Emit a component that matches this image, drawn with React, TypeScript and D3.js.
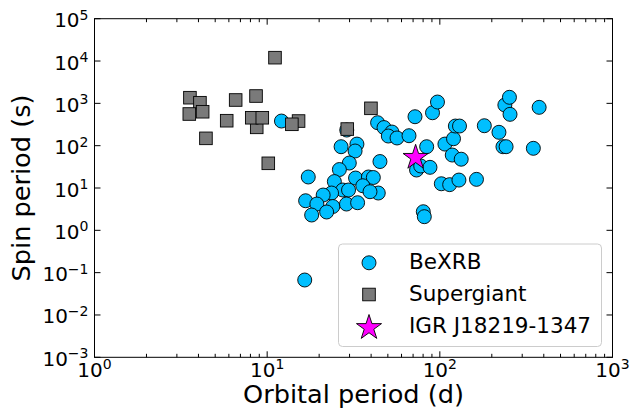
import React from 'react';
import * as d3 from 'd3';

const bexrbOrbital = [12.1, 28.9, 43.6, 47.5, 52.8, 50.3, 56.5, 66.3, 71.8, 90.7, 96.9,
  33.1, 26.8, 32.3, 29.9, 26.2, 45.0, 17.3, 24.5, 32.5, 38.6, 41.2,
  35.8, 27.4, 29.6, 23.6, 21.1, 44.0, 39.4, 16.7, 19.4, 24.0, 28.8,
  33.4, 18.1, 22.1, 83.9, 73.3, 77.5, 87.7, 107, 120, 123, 130,
  118, 133, 102, 114, 129, 163, 181, 220, 238, 253, 255,
  232, 242, 376, 348, 80.2, 81.3, 16.5];
const bexrbSpin = [382, 234, 349, 268, 210, 169, 152, 172, 483, 600, 1075,
  109, 94.5, 74.8, 38.9, 27.3, 42.2, 18.2, 14.2, 17.2, 18.2, 17.7,
  11.3, 8.96, 8.96, 7.61, 6.82, 7.61, 8.17, 5.0, 4.18, 3.65, 4.18,
  4.49, 2.30, 2.71, 94.5, 26.6, 33.1, 30.8, 109, 146, 291, 291,
  60.1, 47.9, 12.6, 12.0, 15.4, 16.0, 296, 207, 913, 1390, 550,
  94.5, 94.5, 805, 86.6, 2.75, 2.10, 0.067];

const sgOrbital = [11.1, 3.57, 4.08, 3.54, 4.23, 6.57, 8.62, 5.83, 8.70, 8.14, 9.37, 4.42, 15.2, 13.9, 39.9, 29.1, 10.15];
const sgSpin = [12000, 1360, 1035, 560, 634, 1200, 1490, 389, 271, 457, 457, 149, 382, 320, 763, 247, 38.3];

const igrOrbital = [72.4];
const igrSpin = [52.46];

const xTickExps = [0, 1, 2, 3];
const yTickExps = [-3, -2, -1, 0, 1, 2, 3, 4, 5];
const legendLabels = ['BeXRB', 'Supergiant', 'IGR J18219-1347'];

const W = 632, H = 411;
const L = 94.5, R = 612.5, T = 18.7, B = 357.3;
const FONT = 'DejaVu Sans, sans-serif';

function starPath(r: number) {
  const ri = r * 0.381966;
  const pts: string[] = [];
  for (let i = 0; i < 10; i++) {
    const a = -Math.PI / 2 + (i * Math.PI) / 5;
    const rr = i % 2 === 0 ? r : ri;
    pts.push(`${(rr * Math.cos(a)).toFixed(2)},${(rr * Math.sin(a)).toFixed(2)}`);
  }
  return 'M' + pts.join('L') + 'Z';
}

function expStr(e: number) {
  return e < 0 ? '\u2212' + Math.abs(e) : String(e);
}

export default function App() {
  const x = d3.scaleLog().domain([1, 1000]).range([L, R]);
  const y = d3.scaleLog().domain([1e-3, 1e5]).range([B, T]);

  const minor: number[] = [];
  for (let d = 0; d < 3; d++) for (let k = 2; k < 10; k++) minor.push(k * Math.pow(10, d));

  const major = 6, minorLen = 3.5;
  const CR = 7, SQ = 6.3, STAR = 13.2;

  return (
    <svg width={W} height={H} style={{ position: 'absolute', left: 0, top: 0, background: '#fff' }} fontFamily={FONT}>
      <rect x={0} y={0} width={W} height={H} fill="#fff" />
      {/* data */}
      <g>
        {bexrbOrbital.map((o, i) => (
          <circle key={'b' + i} cx={x(o)} cy={y(bexrbSpin[i])} r={CR} fill="#00bfff" stroke="#000" strokeWidth={0.9} />
        ))}
      </g>
      <g>
        {sgOrbital.map((o, i) => (
          <rect key={'s' + i} x={x(o) - SQ} y={y(sgSpin[i]) - SQ} width={2 * SQ} height={2 * SQ} fill="#7a7a7a" stroke="#000" strokeWidth={0.9} />
        ))}
      </g>
      <g>
        {igrOrbital.map((o, i) => (
          <path key={'i' + i} d={starPath(STAR)} transform={`translate(${x(o)},${y(igrSpin[i])})`} fill="#ff00ff" stroke="#000" strokeWidth={0.9} />
        ))}
      </g>

      {/* frame */}
      <rect x={L} y={T} width={R - L} height={B - T} fill="none" stroke="#000" strokeWidth={1} />

      {/* x ticks */}
      {xTickExps.map(e => {
        const px = x(Math.pow(10, e));
        return (
          <g key={'xt' + e}>
            <line x1={px} x2={px} y1={B} y2={B - major} stroke="#000" />
            <line x1={px} x2={px} y1={T} y2={T + major} stroke="#000" />
            <text x={px} y={B + 19.4} textAnchor="middle" fontSize={20} fill="#000">
              10<tspan dy={-7.5} fontSize={14}>{expStr(e)}</tspan>
            </text>
          </g>
        );
      })}
      {minor.map(v => {
        const px = x(v);
        return (
          <g key={'xm' + v}>
            <line x1={px} x2={px} y1={B} y2={B - minorLen} stroke="#000" />
            <line x1={px} x2={px} y1={T} y2={T + minorLen} stroke="#000" />
          </g>
        );
      })}
      {/* y ticks */}
      {yTickExps.map(e => {
        const py = y(Math.pow(10, e));
        return (
          <g key={'yt' + e}>
            <line x1={L} x2={L + major} y1={py} y2={py} stroke="#000" />
            <line x1={R} x2={R - major} y1={py} y2={py} stroke="#000" />
            <text x={L - 6} y={py + 8.5} textAnchor="end" fontSize={20} fill="#000">
              10<tspan dy={-7.5} fontSize={14}>{expStr(e)}</tspan>
            </text>
          </g>
        );
      })}

      {/* axis labels */}
      <text x={(L + R) / 2} y={403} textAnchor="middle" fontSize={25.6} fill="#000">Orbital period (d)</text>
      <text transform={`translate(30,${(T + B) / 2}) rotate(-90)`} textAnchor="middle" fontSize={25.6} fill="#000">Spin period (s)</text>

      {/* legend */}
      <g>
        <rect x={338.5} y={244} width={263} height={102.5} rx={4} fill="#fff" fillOpacity={0.8} stroke="#cccccc" strokeWidth={1} />
        {legendLabels.map((lab, i) => {
          const base = 269.3 + i * 31.7;
          const cy = base - 6.5;
          return (
            <g key={'lg' + i}>
              {i === 0 && <circle cx={369} cy={cy} r={CR} fill="#00bfff" stroke="#000" strokeWidth={0.9} />}
              {i === 1 && <rect x={369 - SQ} y={cy - SQ} width={2 * SQ} height={2 * SQ} fill="#7a7a7a" stroke="#000" strokeWidth={0.9} />}
              {i === 2 && <path d={starPath(STAR)} transform={`translate(369,${cy + 1.5})`} fill="#ff00ff" stroke="#000" strokeWidth={0.9} />}
              <text x={409} y={base} fontSize={21.5} fill="#000">{lab}</text>
            </g>
          );
        })}
      </g>
    </svg>
  );
}
